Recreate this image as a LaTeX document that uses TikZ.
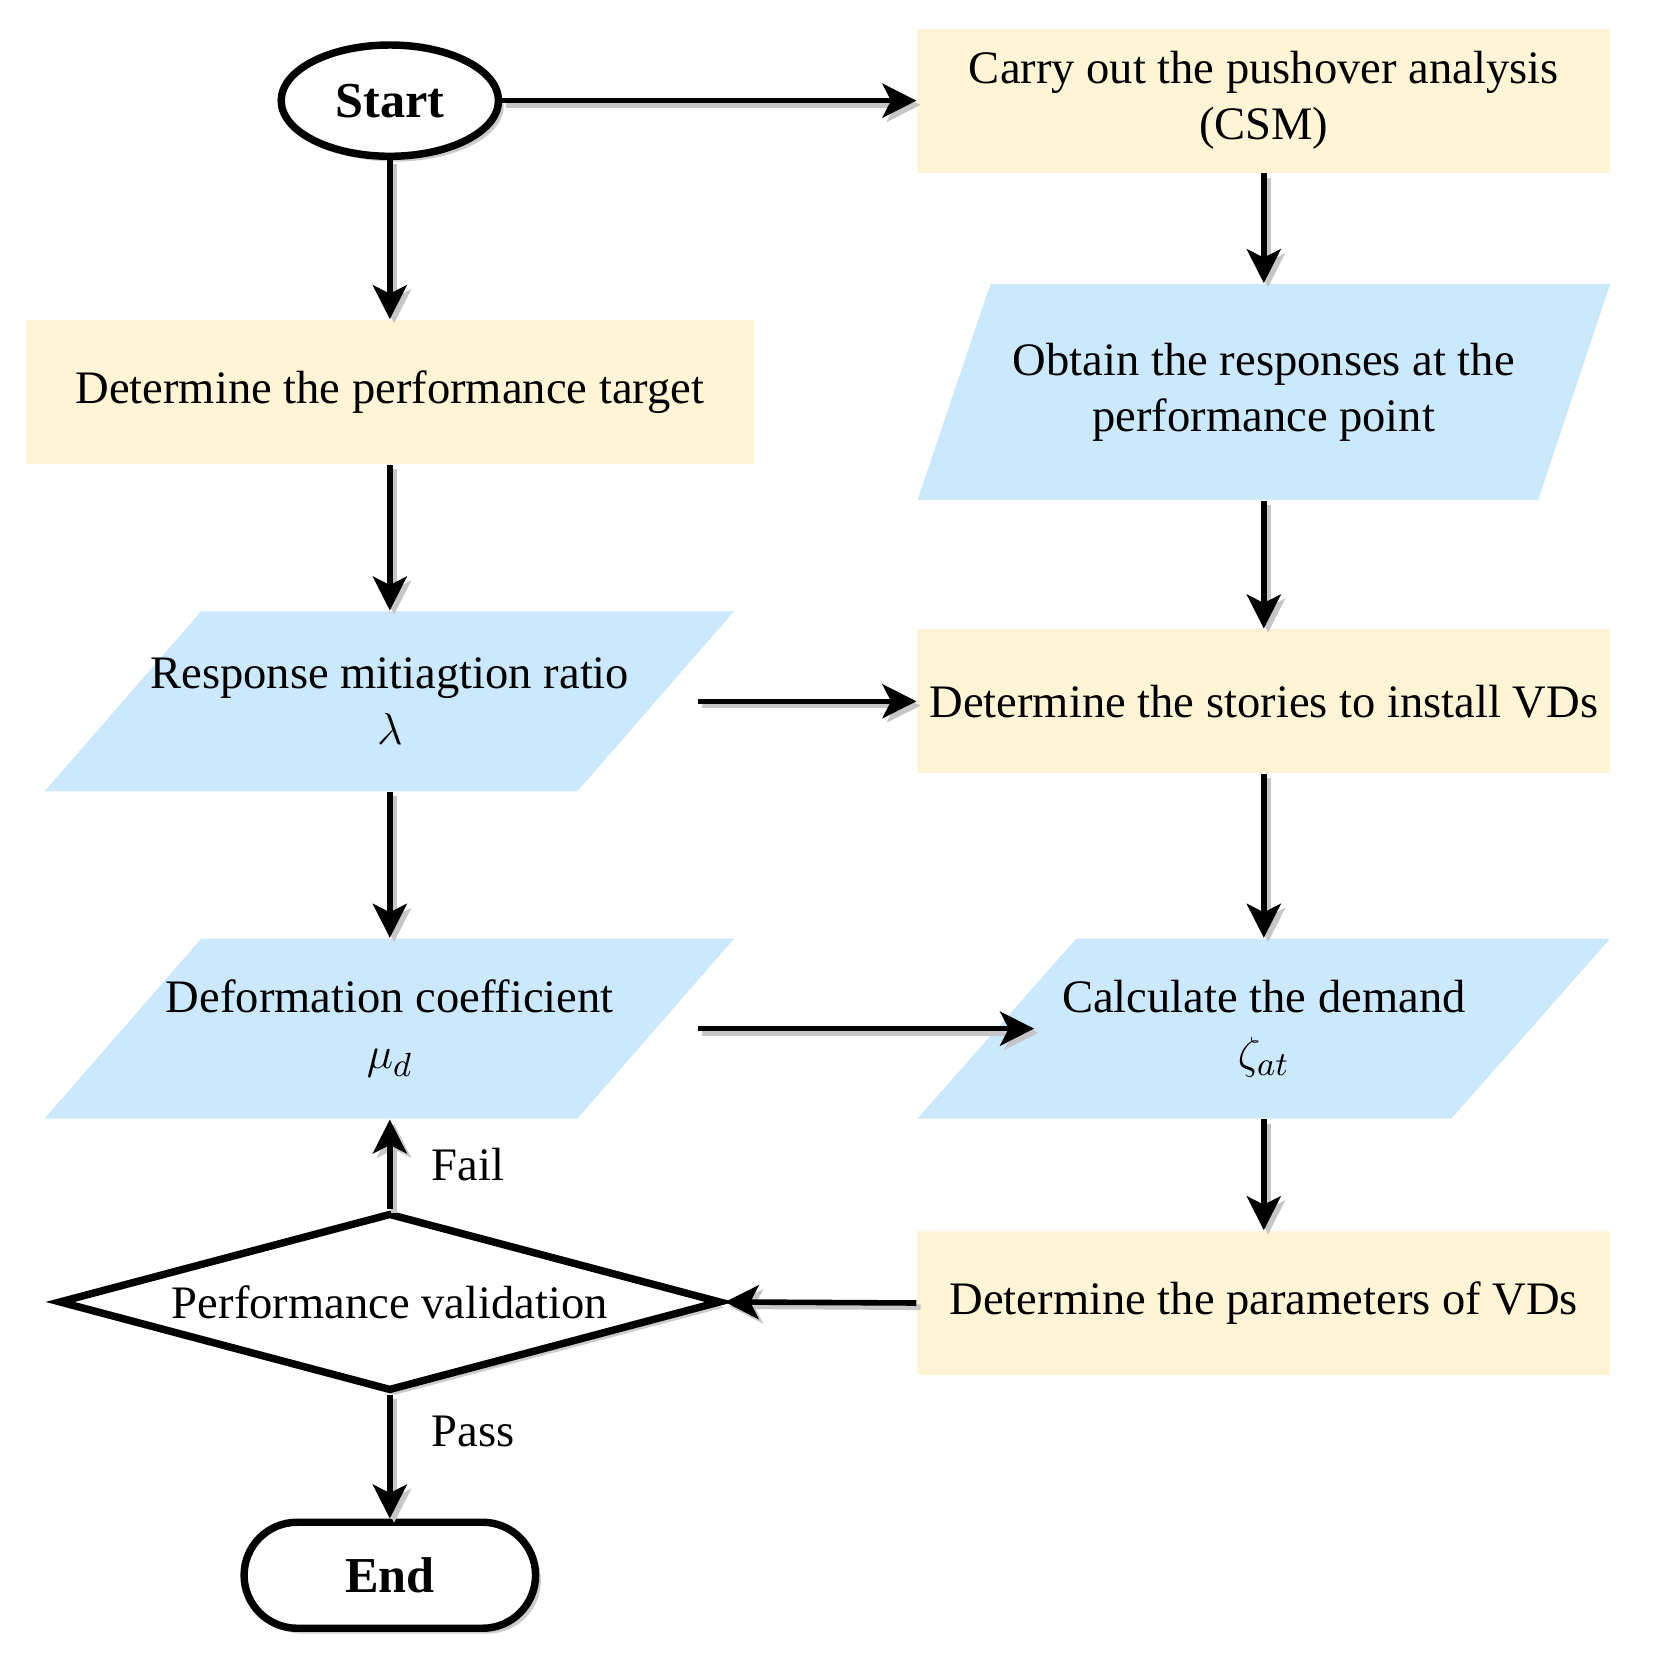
\documentclass[tikz,border=0pt]{standalone}
\usepackage{fontspec}
\setmainfont{Liberation Serif}
\usetikzlibrary{arrows.meta,shapes.geometric}
\definecolor{cream}{HTML}{FFF4D6}
\definecolor{sky}{HTML}{CCE8FC}
\begin{document}
\begin{tikzpicture}[x=0.01cm,y=-0.01cm,
  txt/.style={font=\fontsize{12.5}{15}\selectfont,align=center},
  box/.style={txt,fill=cream,minimum width=6.54cm,minimum height=1.36cm,inner sep=0},
  arr/.style={line width=1.5pt,-{Stealth[length=0.32cm,width=0.32cm,inset=0.08cm]},
    preaction={draw=gray!45,line width=1.5pt,transform canvas={shift={(0.04cm,-0.04cm)}}}},
  lab/.style={font=\fontsize{12.5}{15}\selectfont}]
\useasboundingbox (0,0) rectangle (1560,1584);
% parallelograms
\fill[sky] (935,268)--(1520,268)--(1452,472)--(866,472)--cycle;
\fill[sky] (190,577)--(693,577)--(545,747)--(42,747)--cycle;
\fill[sky] (190,886)--(693,886)--(545,1056)--(42,1056)--cycle;
\fill[sky] (1016,886)--(1520,886)--(1370,1056)--(866,1056)--cycle;
% nodes
\node[txt,ellipse,draw,line width=2pt,minimum width=2.05cm,minimum height=1.05cm,fill=white,
  font=\fontsize{13.5}{15}\selectfont\bfseries,
  preaction={fill=gray!40,transform canvas={shift={(0.05cm,-0.05cm)}}}] (start) at (368,95) {Start};
\node[box] (b1) at (1193,95) {Carry out the pushover analysis\\(CSM)};
\node[box,minimum width=6.87cm] (b2) at (368,370) {Determine the performance target};
\node[txt,minimum width=5.85cm,minimum height=2.04cm] (p1) at (1193,370) {Obtain the responses at the\\performance point};
\node[txt,minimum width=5.8cm,minimum height=1.7cm] (p2) at (368,662) {Response mitiagtion ratio\\$\lambda$};
\node[box] (b3) at (1193,662) {Determine the stories to install VDs};
\node[txt,minimum width=5.8cm,minimum height=1.7cm] (p3) at (368,971) {Deformation coefficient\\$\mu_d$};
\node[txt,minimum width=5.8cm,minimum height=1.7cm] (p4) at (1193,971) {Calculate the demand\\$\zeta_{at}$};
\node[box] (b4) at (1193,1230) {Determine the parameters of VDs};
\node[txt,diamond,draw,line width=2pt,fill=white,aspect=3.7,minimum width=6.25cm,minimum height=1.68cm,inner sep=0,
  preaction={fill=gray!40,transform canvas={shift={(0.05cm,-0.05cm)}}}] (d) at (368,1229) {Performance validation};
\node[txt,draw,line width=2pt,rounded corners=0.5cm,minimum width=2.75cm,minimum height=1cm,fill=white,
  font=\fontsize{13.5}{15}\selectfont\bfseries,
  preaction={fill=gray!40,rounded corners=0.5cm,transform canvas={shift={(0.05cm,-0.05cm)}}}] (e) at (368,1487) {End};
% arrows
\draw[arr] (start.east) -- (b1.west);
\draw[arr] (start.south) -- (b2.north);
\draw[arr] (b2.south) -- (p2.north);
\draw[arr] (p2.south) -- (p3.north);
\draw[arr] (p2.east) -- (b3.west);
\draw[arr] (p3.east) -- ([xshift=0.74cm]p4.west);
\draw[arr] (b1.south) -- (p1.north);
\draw[arr] (p1.south) -- (b3.north);
\draw[arr] (b3.south) -- (p4.north);
\draw[arr] (p4.south) -- (b4.north);
\draw[arr] (b4.west) -- (d.east);
\draw[arr] (d.north) -- node[lab,right=0.25cm]{Fail} (p3.south);
\draw[arr] (d.south) -- node[lab,right=0.25cm,pos=0.3]{Pass} (e.north);
\end{tikzpicture}
\end{document}
